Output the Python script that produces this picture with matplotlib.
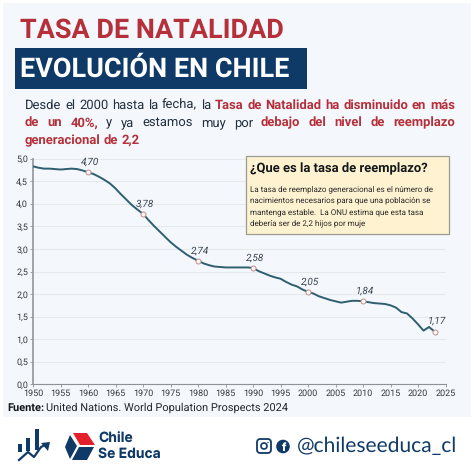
import matplotlib
matplotlib.use("Agg")
import matplotlib.pyplot as plt
from matplotlib.patches import Rectangle, Polygon, Circle, FancyBboxPatch

plt.rcParams["text.hinting"] = "no_hinting"
plt.rcParams["text.hinting_factor"] = 1

# --- data ---
YEARS = [1950, 1951, 1952, 1953, 1954, 1955, 1956, 1957, 1958, 1959,
         1960, 1961, 1962, 1963, 1964, 1965, 1966, 1967, 1968, 1969,
         1970, 1971, 1972, 1973, 1974, 1975, 1976, 1977, 1978, 1979,
         1980, 1981, 1982, 1983, 1984, 1985, 1986, 1987, 1988, 1989,
         1990, 1991, 1992, 1993, 1994, 1995, 1996, 1997, 1998, 1999,
         2000, 2001, 2002, 2003, 2004, 2005, 2006, 2007, 2008, 2009,
         2010, 2011, 2012, 2013, 2014, 2015, 2016, 2017, 2018, 2019,
         2020, 2021, 2022, 2023]
TFR = [4.83, 4.80, 4.78, 4.78, 4.77, 4.76, 4.77, 4.78, 4.77, 4.74,
       4.70, 4.66, 4.60, 4.53, 4.45, 4.34, 4.21, 4.09, 3.97, 3.87,
       3.78, 3.64, 3.51, 3.39, 3.27, 3.15, 3.05, 2.96, 2.87, 2.80,
       2.74, 2.68, 2.64, 2.61, 2.60, 2.59, 2.59, 2.59, 2.59, 2.59,
       2.58, 2.51, 2.46, 2.41, 2.37, 2.34, 2.27, 2.21, 2.17, 2.10,
       2.05, 2.01, 1.95, 1.91, 1.87, 1.84, 1.81, 1.83, 1.85, 1.85,
       1.84, 1.82, 1.80, 1.79, 1.78, 1.75, 1.70, 1.60, 1.57, 1.46,
       1.33, 1.19, 1.27, 1.17]
MARK_YEARS = [1960, 1970, 1980, 1990, 2000, 2010, 2023]
MARK_LABELS = ["4,70", "3,78", "2,74", "2,58", "2,05", "1,84", "1,17"]
Y_TICKS = [0.0, 0.5, 1.0, 1.5, 2.0, 2.5, 3.0, 3.5, 4.0, 4.5, 5.0]
Y_LABELS = ["0,0", "0,5", "1,0", "1,5", "2,0", "2,5", "3,0", "3,5", "4,0", "4,5", "5,0"]
X_TICKS = [1950, 1955, 1960, 1965, 1970, 1975, 1980, 1985, 1990,
           1995, 2000, 2005, 2010, 2015, 2020, 2025]

PAR_LINES = [
    [("Desde el 2000 hasta la fecha, la", False), ("Tasa de Natalidad ha disminuido en más", True)],
    [("de un 40%,", True), ("y ya estamos muy por", False), ("debajo del nivel de reemplazo", True)],
    [("generacional de 2,2", True)],
]
BOX_LINES = ["La tasa de reemplazo generacional es el número de",
             "nacimientos necesarios para que una población se",
             "mantenga estable.  La ONU estima que esta tasa",
             "debería ser de 2,2 hijos por muje"]

RED = "#B5303A"
NAVY = "#0F3A68"
W = 474

fig = plt.figure(figsize=(4.74, 4.74), dpi=100, facecolor="white")

# overlay in pixel coords, y pointing down
bg = fig.add_axes([0, 0, 1, 1], zorder=0)
bg.set_xlim(0, W)
bg.set_ylim(W, 0)
bg.axis("off")
bg.add_patch(Rectangle((3, 3), 468, 414, fc="#F4F7FB", ec="none"))

# --- header ---
bg.text(20, 30, "TASA DE NATALIDAD", color=RED, family="Roboto", weight="bold",
        fontsize=19.6, va="center")
bg.add_patch(Rectangle((15, 48), 292, 41, fc=NAVY, ec="none"))
bg.text(20, 69, "EVOLUCIÓN EN CHILE", color="white", family="Roboto", weight="bold",
        fontsize=19.6, va="center")

fig.canvas.draw()
rend = fig.canvas.get_renderer()


def word_width(word, bold):
    t = bg.text(0, 0, word, family="Roboto", fontsize=9.2, weight="bold" if bold else "normal")
    w = t.get_window_extent(rend).width
    t.remove()
    return w


# justified paragraph, word by word
PAR_X0, PAR_X1 = 25, 455
for n, segs in enumerate(PAR_LINES):
    y = 105 + n * 17.8
    words = [(w, b) for s, b in segs for w in s.split()]
    widths = [word_width(w, b) for w, b in words]
    if n < len(PAR_LINES) - 1:
        gap = (PAR_X1 - PAR_X0 - sum(widths)) / (len(words) - 1)
    else:
        gap = 3.2
    x = PAR_X0
    for (w, b), ww in zip(words, widths):
        bg.text(x, y, w, family="Roboto", fontsize=9.2, va="center",
                weight="bold" if b else "normal", color=RED if b else "#22303F")
        x += ww + gap

# --- chart ---
ax = fig.add_axes([33 / W, 1 - 384.3 / W, 412.5 / W, 225.6 / W], zorder=1)
ax.patch.set_alpha(0)
ax.set_xlim(1950, 2025)
ax.set_ylim(0, 5)
ax.grid(axis="y", color="#E4E9EC", lw=0.8)
ax.set_axisbelow(True)
ax.plot(YEARS, TFR, color="#2D5F70", lw=1.4, solid_capstyle="round", zorder=3)

mark_vals = [TFR[YEARS.index(y)] for y in MARK_YEARS]
ax.plot(MARK_YEARS, mark_vals, ls="none", marker="o", ms=3.6, mfc="#FBF7F5",
        mec="#C58F8F", mew=0.7, zorder=4)
for yr, v, lab in zip(MARK_YEARS, mark_vals, MARK_LABELS):
    ax.annotate(lab, (yr, v), xytext=(1.5, 4), textcoords="offset points", ha="center",
                va="bottom", family="Roboto", style="italic", fontsize=7, color="#3A4650",
                zorder=5)

ax.set_xticks(X_TICKS)
ax.set_yticks(Y_TICKS)
ax.set_yticklabels(Y_LABELS)
ax.tick_params(axis="both", labelsize=6.7, labelcolor="#333B42", color="#8E9296",
               length=2, width=0.6, pad=1.5)
for lab in ax.get_xticklabels() + ax.get_yticklabels():
    lab.set_family("Roboto")
for s in ["top", "right"]:
    ax.spines[s].set_visible(False)
ax.spines["left"].set_color("#9A9EA2")
ax.spines["left"].set_linewidth(1.3)
ax.spines["bottom"].set_color("#8E9296")
ax.spines["bottom"].set_linewidth(0.8)

# --- overlay for box and footer ---
fg = fig.add_axes([0, 0, 1, 1], zorder=2)
fg.set_xlim(0, W)
fg.set_ylim(W, 0)
fg.axis("off")

fg.add_patch(Rectangle((246.5, 155.7), 202.5, 78.3, fc="#FEF2D0", ec="#9C9C92", lw=0.9))
fg.text(250, 169, "¿Que es la tasa de reemplazo?", family="Roboto", weight="bold",
        fontsize=9.2, va="center", color="#15181B")
for i, line in enumerate(BOX_LINES):
    fg.text(250, 189 + i * 11.4, line, family="Roboto", fontsize=5.8, va="center",
            color="#2A2A2A")

fg.text(7, 407.5, "Fuente:", family="Roboto", weight="bold", fontsize=7.6, va="center",
        color="#15181B")
fg.text(46.5, 407.5, "United Nations. World Population Prospects 2024", family="Roboto",
        fontsize=7.6, va="center", color="#22282E")

# logo with bars and arrow
fg.add_patch(Rectangle((18, 444), 4, 8, fc=NAVY))
fg.add_patch(Rectangle((26, 438), 4, 13, fc=NAVY))
fg.add_patch(Rectangle((35, 429), 4, 21, fc=NAVY))
fg.plot([19, 28, 34, 41, 47], [460, 452, 457, 447, 444], color=NAVY, lw=1.6)
fg.add_patch(Polygon([[41, 443], [50, 442], [48, 451]], fc=NAVY))

# cube logo
fg.add_patch(Polygon([[73, 433], [87, 433], [95, 445], [80, 445]], fc="#E3202C"))
fg.add_patch(Polygon([[70, 435], [77, 446], [70, 459], [65, 447]], fc=NAVY))
fg.add_patch(Polygon([[79, 447], [94, 447], [87, 460], [72, 460]], fc=NAVY))

fg.text(98, 439.5, "Chile", family="Inter", weight="bold", fontsize=10, va="center", color=NAVY)
fg.text(98, 454.5, "Se Educa", family="Inter", weight="bold", fontsize=10, va="center", color=NAVY)

# social icons
fg.add_patch(FancyBboxPatch((259, 441), 10, 10, boxstyle="round,pad=2,rounding_size=3.5",
                            fc="none", ec=NAVY, lw=1.3))
fg.add_patch(Circle((264, 446), 3, fc="none", ec=NAVY, lw=1.2))
fg.add_patch(Circle((268, 442.5), 0.7, fc=NAVY))
fg.add_patch(Circle((283, 446.5), 6.8, fc=NAVY, ec="none"))
fg.text(283.5, 447.5, "f", family="Inter", weight="bold", fontsize=8, color="white",
        ha="center", va="center")
fg.text(297, 446, "@chileseeduca_cl", family="Lato", fontsize=14.8, va="center", color=NAVY)

fig.savefig("out.png", dpi=100)
